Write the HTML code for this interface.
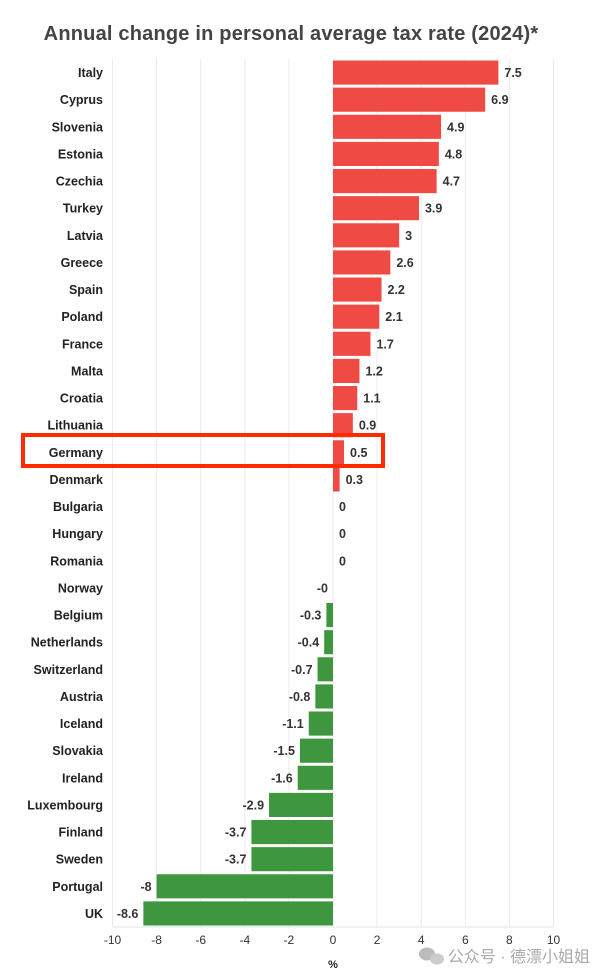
<!DOCTYPE html>
<html><head><meta charset="utf-8"><style>
body{margin:0;background:#fff;}
svg{display:block;font-family:"Liberation Sans","Noto Sans CJK SC",sans-serif;}
</style></head><body>
<svg id="chart" width="604" height="978" viewBox="0 0 604 978">
<text x="291" y="40" text-anchor="middle" font-size="20" font-weight="bold" fill="#444" letter-spacing="0.2">Annual change in personal average tax rate (2024)*</text>
<g id="grid"></g><g id="bars"></g><g id="labels"></g><g id="axis"></g>
<text x="333" y="968" text-anchor="middle" font-size="11" font-weight="bold" fill="#222">%</text>
<g fill="#bbb"><ellipse cx="427" cy="954" rx="8" ry="6.5"/><ellipse cx="437" cy="959" rx="7" ry="5.5" fill="#ccc"/></g>
<text x="590" y="962" text-anchor="end" font-size="16" fill="#aaa">公众号 · 德漂小姐姐</text>
<rect x="23" y="435" width="360" height="31" fill="none" stroke="#ff2a00" stroke-width="4"/>
</svg>
<script>
const countries=["Italy","Cyprus","Slovenia","Estonia","Czechia","Turkey","Latvia","Greece","Spain","Poland","France","Malta","Croatia","Lithuania","Germany","Denmark","Bulgaria","Hungary","Romania","Norway","Belgium","Netherlands","Switzerland","Austria","Iceland","Slovakia","Ireland","Luxembourg","Finland","Sweden","Portugal","UK"];
const values=[7.5,6.9,4.9,4.8,4.7,3.9,3,2.6,2.2,2.1,1.7,1.2,1.1,0.9,0.5,0.3,0,0,0,-0,-0.3,-0.4,-0.7,-0.8,-1.1,-1.5,-1.6,-2.9,-3.7,-3.7,-8,-8.6];
const valueLabels=["7.5","6.9","4.9","4.8","4.7","3.9","3","2.6","2.2","2.1","1.7","1.2","1.1","0.9","0.5","0.3","0","0","0","-0","-0.3","-0.4","-0.7","-0.8","-1.1","-1.5","-1.6","-2.9","-3.7","-3.7","-8","-8.6"];
const ticks=[-10,-8,-6,-4,-2,0,2,4,6,8,10];
const NS="http://www.w3.org/2000/svg";
const x=v=>333+v*22.05;
const top0=59,bottom=927;
const step=(bottom-top0)/countries.length;
const yc=i=>top0+step*(i+0.5);
function mk(t,a,p){const e=document.createElementNS(NS,t);for(const k in a)e.setAttribute(k,a[k]);p.appendChild(e);return e;}
const G=document.getElementById('grid'),B=document.getElementById('bars'),L=document.getElementById('labels'),A=document.getElementById('axis');
ticks.forEach(t=>{
 const l=mk('line',{x1:x(t),x2:x(t),y1:top0,y2:bottom,stroke:'#ebebeb','stroke-width':1},G);
 
 
 const tx=mk('text',{x:x(t),y:bottom+17,'text-anchor':'middle','font-size':12,fill:'#333'},A);
 tx.textContent=t;
 
 
});
const ax=mk('line',{x1:x(-10),x2:x(10),y1:bottom,y2:bottom,stroke:'#e3e3e3','stroke-width':1},A);


countries.forEach((c,i)=>{
 const v=values[i],cy=yc(i),h=step-3;
 const r=mk('rect',{x:Math.min(x(0),x(v)),y:cy-h/2,width:Math.abs(x(v)-x(0)),height:h,fill:v>=0?'#f04a45':'#3e973e'},B);
 
 
 const n=mk('text',{x:103,y:cy+4.5,'text-anchor':'end','font-size':12.5,'font-weight':'bold',fill:'#222'},L);
 n.textContent=c;
 
 
 const neg=valueLabels[i].startsWith('-');
 const vl=mk('text',{x:neg?x(v)-5:x(v)+6,y:cy+4.5,'text-anchor':neg?'end':'start','font-size':12.5,'font-weight':'bold',fill:'#333'},L);
 vl.textContent=valueLabels[i];
 
 
});
</script>
</body></html>
